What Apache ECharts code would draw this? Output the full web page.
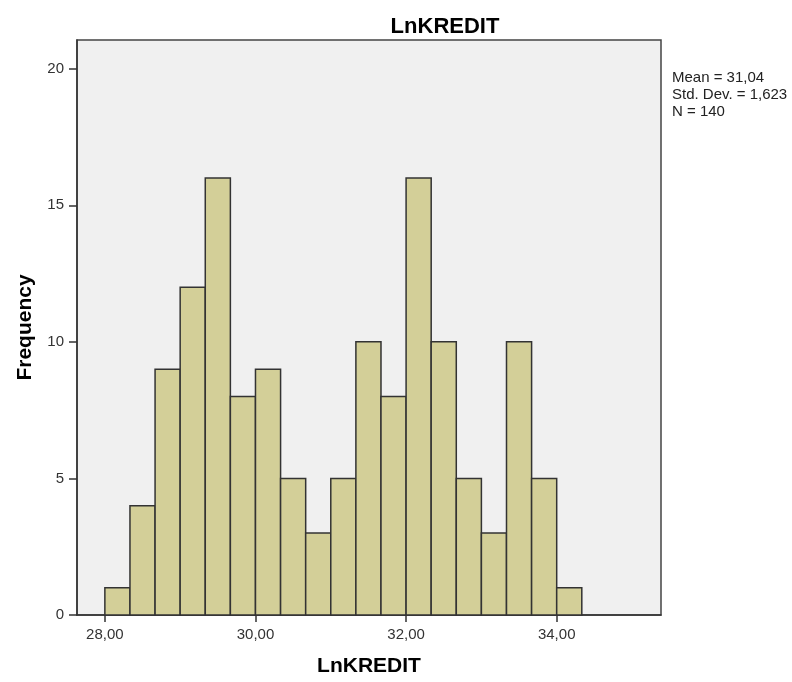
<!DOCTYPE html>
<html>
<head>
<meta charset="utf-8">
<script src="https://cdn.jsdelivr.net/npm/echarts@6/dist/echarts.min.js"></script>
<style>
  html,body{margin:0;padding:0;background:#fff;}
  #chart{width:792px;height:682px;}
</style>
</head>
<body>
<div id="chart"></div>
<script>
// histogram bins: start at 28, width 1/3
const binStart = 28
const binWidth = 1 / 3
const frequencies = [1, 4, 9, 12, 16, 8, 9, 5, 3, 5, 10, 8, 16, 10, 5, 3, 10, 5, 1]
const xTicks = [28, 30, 32, 34]
const yTicks = [0, 5, 10, 15, 20]
const statsLines = ['Mean = 31,04', 'Std. Dev. = 1,623', 'N = 140']

const chart = echarts.init(document.getElementById('chart'))

// [lo, hi, count] for each bar
const bins = frequencies.map((f, i) => [binStart + i * binWidth, binStart + (i + 1) * binWidth, f])

const fmt = v => v.toFixed(2).replace('.', ',')
const font = 'Liberation Sans, Arial'

chart.setOption({
  backgroundColor: '#fff',
  animation: false,
  title: {
    text: 'LnKREDIT',
    left: 440,
    top: 11,
    textAlign: 'center',
    textStyle: { fontFamily: font, fontSize: 22, fontWeight: 'bold', color: '#000' }
  },
  graphic: [{
    type: 'text',
    left: 672,
    top: 69,
    style: {
      text: statsLines.join('\n'),
      fontFamily: font,
      fontSize: 15,
      lineHeight: 17,
      fill: '#222'
    }
  }],
  grid: {
    left: 77, top: 40, right: 131, bottom: 62,
    show: true,
    backgroundColor: '#f0f0f0',
    borderColor: '#444',
    borderWidth: 1.5
  },
  xAxis: {
    type: 'value',
    min: 27.63,
    max: 35.385,
    name: 'LnKREDIT',
    nameLocation: 'middle',
    nameGap: 41,
    nameTextStyle: { fontFamily: font, fontSize: 21, fontWeight: 'bold', color: '#000' },
    splitLine: { show: false },
    axisLine: { lineStyle: { color: '#333', width: 1.5 } },
    axisTick: { customValues: xTicks, length: 7, lineStyle: { color: '#333', width: 1.5 } },
    axisLabel: {
      customValues: xTicks,
      formatter: fmt,
      margin: 12,
      fontFamily: font, fontSize: 15, color: '#333'
    }
  },
  yAxis: {
    type: 'value',
    min: 0,
    max: 21.05,
    name: 'Frequency',
    nameLocation: 'middle',
    nameGap: 41,
    nameTextStyle: { fontFamily: font, fontSize: 21, fontWeight: 'bold', color: '#000' },
    splitLine: { show: false },
    axisLine: { show: true, lineStyle: { color: '#333', width: 1.5 } },
    axisTick: { show: true, customValues: yTicks, length: 8, lineStyle: { color: '#333', width: 1.5 } },
    axisLabel: {
      customValues: yTicks,
      margin: 13,
      fontFamily: font, fontSize: 15, color: '#333'
    }
  },
  series: [{
    type: 'custom',
    data: bins,
    encode: { x: [0, 1], y: 2 },
    renderItem: function (params, api) {
      const p0 = api.coord([api.value(0), 0])
      const p1 = api.coord([api.value(1), api.value(2)])
      return {
        type: 'rect',
        shape: { x: p0[0], y: p1[1], width: p1[0] - p0[0], height: p0[1] - p1[1] },
        style: { fill: '#d3cf98', stroke: '#333', lineWidth: 1.5 }
      }
    }
  }]
})
</script>
</body>
</html>
